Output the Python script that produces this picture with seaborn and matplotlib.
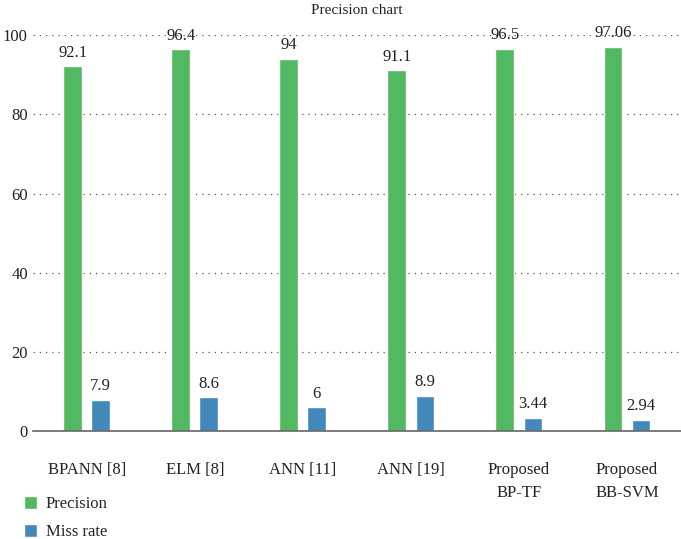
import matplotlib
matplotlib.use("Agg")
import matplotlib.pyplot as plt
import numpy as np
import pandas as pd
import seaborn as sns

methods = ["BPANN [8]", "ELM [8]", "ANN [11]", "ANN [19]", "Proposed\nBP-TF", "Proposed\nBB-SVM"]
precision = [92.1, 96.4, 94, 91.1, 96.5, 97.06]
miss_rate = [7.9, 8.6, 6, 8.9, 3.44, 2.94]
precision_labels = ["92.1", "96.4", "94", "91.1", "96.5", "97.06"]
miss_labels = ["7.9", "8.6", "6", "8.9", "3.44", "2.94"]

df = pd.DataFrame({
    "method": methods * 2,
    "value": precision + miss_rate,
    "series": ["Precision"] * len(methods) + ["Miss rate"] * len(methods),
})

sns.set_style("white")
plt.rcParams["font.family"] = ["Liberation Serif", "DejaVu Serif"]

fig = plt.figure(figsize=(6.81, 5.39), dpi=100)
ax = fig.add_axes([0.048, 0.2, 0.952, 0.735])

palette = {"Precision": "#52b962", "Miss rate": "#4288bb"}
sns.barplot(data=df, x="method", y="value", hue="series", palette=palette,
            width=0.52, gap=0.33, saturation=1, ax=ax, legend=True)

for cont, labels in zip(ax.containers, [precision_labels, miss_labels]):
    ax.bar_label(cont, labels=labels, padding=4, fontsize=12, color="#222222")

ax.set_ylim(0, 100)
ax.set_yticks([0, 20, 40, 60, 80, 100])
ax.yaxis.grid(True, linestyle=(0, (1, 4)), color="#555555", linewidth=0.9)
ax.set_axisbelow(True)
for side in ["left", "right", "top"]:
    ax.spines[side].set_visible(False)
ax.spines["bottom"].set_color("#666666")
ax.spines["bottom"].set_linewidth(1.2)
ax.tick_params(axis="both", length=0, labelsize=12, colors="#222222")
ax.tick_params(axis="x", pad=22)
for lbl in ax.get_xticklabels():
    lbl.set_linespacing(1.6)
ax.set_xlabel("")
ax.set_ylabel("")
ax.set_xlim(-0.5, len(methods) - 0.5)

ax.set_title("Precision chart", fontsize=11, color="#222222", pad=15)

handles, labels = ax.get_legend_handles_labels()
ax.get_legend().remove()
fig.legend(handles, labels, loc="lower left", bbox_to_anchor=(0.013, -0.03),
           frameon=False, fontsize=12, handlelength=0.8, handleheight=0.8,
           labelspacing=0.7, handletextpad=0.5)

fig.savefig("out.png", dpi=100)
